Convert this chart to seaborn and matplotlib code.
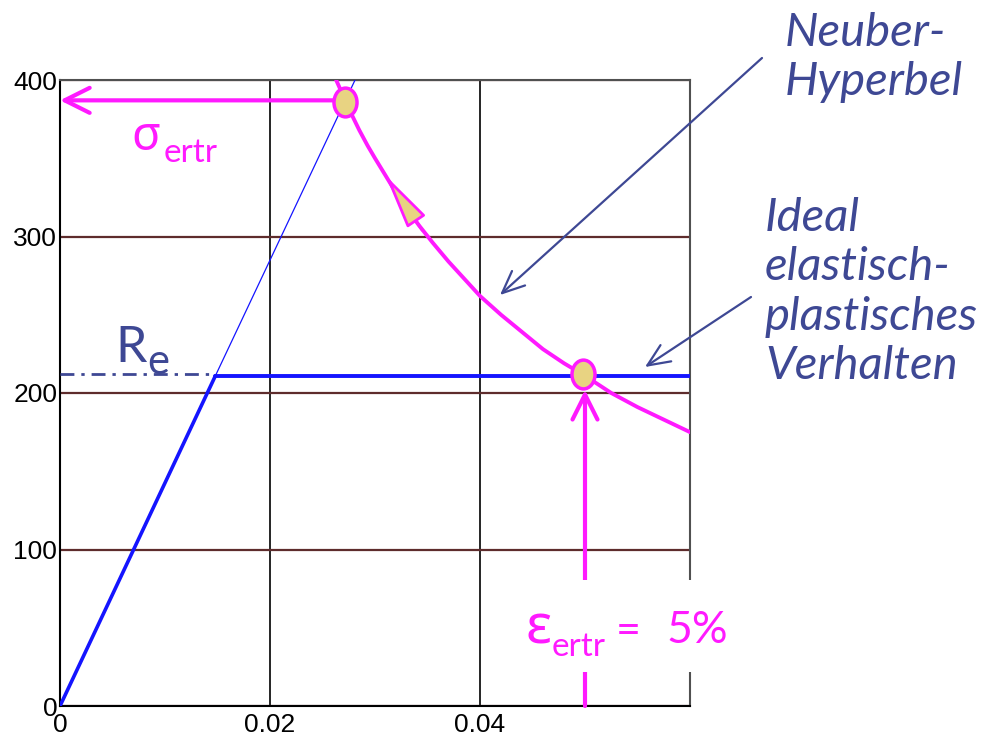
import matplotlib
matplotlib.use("Agg")
import matplotlib.pyplot as plt
import seaborn as sns
from matplotlib.path import Path
from matplotlib.transforms import Affine2D
from matplotlib.patches import Rectangle

# --- data ---
x_ticks = [0, 0.02, 0.04]
x_tick_labels = ["0", "0.02", "0.04"]
y_ticks = [0, 100, 200, 300, 400]
y_tick_labels = ["0", "100", "200", "300", "400"]

# elastic branch (thick) and its thin continuation
elastic_eps = [0.0, 0.0148]
elastic_sig = [0, 211]
elastic_ext_eps = [0.0148, 0.0281]
elastic_ext_sig = [211, 400]

# ideal plastic branch
plastic_eps = [0.0148, 0.060]
plastic_sig = [211, 211]

# yield stress marker line R_e
re_eps = [0.0, 0.0148]
re_sig = [212, 212]

# Neuber hyperbola
neuber_eps = [0.0263, 0.0267, 0.0271, 0.0277, 0.0285, 0.0293, 0.0300, 0.0310,
              0.0320, 0.0330, 0.0342, 0.0355, 0.0370, 0.0385, 0.0400, 0.0420,
              0.0440, 0.0460, 0.0480, 0.0500, 0.0525, 0.0550, 0.0575, 0.0600]
neuber_sig = [400, 394, 388, 379, 368, 358, 350, 339,
              328, 318, 307, 296, 284, 273, 262, 250,
              239, 228, 219, 211, 200, 191, 183, 175]

# highlighted points
point_eps = [0.0271, 0.0498]
point_sig = [386, 212]

sigma_ertr = 387
eps_ertr = 0.05
eps_ertr_tip = 202

# direction arrow on the hyperbola
dir_tip = (0.0310, 339)
dir_tail = (0.0345, 304)

MAGENTA = "#ff1aff"
FILL = "#e8d382"
BLUE = "#1414ff"
SLATE = "#3e4894"
BROWN = "#5e2c2c"

sns.set_style("white")
plt.rcParams["font.family"] = ["Liberation Sans Narrow", "Liberation Sans", "DejaVu Sans"]

W, H = 992, 745
fig = plt.figure(figsize=(W / 100, H / 100), dpi=100)
ax = fig.add_axes([60 / W, 39 / H, 630 / W, 626 / H])


def fp(x, y):
    # image pixel (from top-left) -> figure fraction
    return (x / W, 1 - y / H)


ax.set_xlim(0, 0.06)
ax.set_ylim(0, 400)
ax.set_xticks(x_ticks)
ax.set_xticklabels(x_tick_labels)
ax.set_yticks(y_ticks)
ax.set_yticklabels(y_tick_labels)
ax.tick_params(axis="both", length=0, labelsize=19, labelcolor="black")
ax.tick_params(axis="x", pad=5)
ax.tick_params(axis="y", pad=2)

ax.xaxis.grid(True, color="black", lw=1.2)
ax.yaxis.grid(True, color=BROWN, lw=1.6)
ax.set_axisbelow(True)
for side in ["left", "bottom"]:
    ax.spines[side].set_color("black")
    ax.spines[side].set_linewidth(1.5)
for side in ["top", "right"]:
    ax.spines[side].set_color("#505050")
    ax.spines[side].set_linewidth(1.5)

# curves
sns.lineplot(x=elastic_ext_eps, y=elastic_ext_sig, ax=ax, color=BLUE, lw=0.9,
             sort=False, estimator=None, zorder=3)
sns.lineplot(x=elastic_eps, y=elastic_sig, ax=ax, color=BLUE, lw=2.6,
             sort=False, estimator=None, zorder=3)
sns.lineplot(x=plastic_eps, y=plastic_sig, ax=ax, color=BLUE, lw=2.8,
             sort=False, estimator=None, zorder=3)
sns.lineplot(x=re_eps, y=re_sig, ax=ax, color=SLATE, lw=2.0,
             linestyle=(0, (5, 2.5, 1.2, 2.5)), sort=False, estimator=None, zorder=3)
sns.lineplot(x=neuber_eps, y=neuber_sig, ax=ax, color=MAGENTA, lw=2.8,
             sort=False, estimator=None, zorder=4)

# arrows to the axes
ax.annotate("", xy=(0, sigma_ertr), xytext=(point_eps[0], sigma_ertr),
            arrowprops=dict(arrowstyle="->,head_length=0.9,head_width=0.45",
                            mutation_scale=20, color=MAGENTA, lw=3,
                            shrinkA=0, shrinkB=0), zorder=4)
ax.annotate("", xy=(eps_ertr, eps_ertr_tip), xytext=(eps_ertr, 0),
            arrowprops=dict(arrowstyle="->,head_length=0.9,head_width=0.45",
                            mutation_scale=20, color=MAGENTA, lw=3,
                            shrinkA=0, shrinkB=0), zorder=4)

# direction triangle on the hyperbola
ax.annotate("", xy=dir_tip, xytext=dir_tail,
            arrowprops=dict(arrowstyle="-|>,head_length=1.7,head_width=0.34",
                            mutation_scale=20, fc=FILL, ec=MAGENTA, lw=2,
                            shrinkA=0, shrinkB=0), zorder=5)

# elliptic markers
ell = Path.unit_circle().transformed(Affine2D().scale(0.8, 1.0))
sns.scatterplot(x=point_eps, y=point_sig, ax=ax, marker=ell, s=430,
                color=FILL, edgecolor=MAGENTA, linewidth=2.5, zorder=6)

# labels inside the chart
fig.text(*fp(131, 150), "σ", fontsize=34, color=MAGENTA, family=["Noto Sans", "DejaVu Sans"])
fig.text(*fp(164, 162), "ertr", fontsize=24, color=MAGENTA, family=["Lato", "DejaVu Sans"])
fig.text(*fp(115, 362), "R", fontsize=36, color=SLATE, family=["Lato", "DejaVu Sans"])
fig.text(*fp(147, 374), "e", fontsize=30, color=SLATE, family=["Lato", "DejaVu Sans"])

# epsilon label with white background
fig.add_artist(Rectangle(fp(515, 672), 230 / W, 92 / H, transform=fig.transFigure,
                         fc="white", ec="none", zorder=5))
fig.text(*fp(526, 643), "ε", fontsize=40, color=MAGENTA, zorder=6,
         family=["Noto Sans", "DejaVu Sans"])
fig.text(*fp(552, 656), "ertr", fontsize=24, color=MAGENTA, zorder=6,
         family=["Lato", "DejaVu Sans"])
fig.text(*fp(616, 643), "=", fontsize=31, color=MAGENTA, zorder=6,
         family=["Lato", "DejaVu Sans"])
fig.text(*fp(666, 643), "5%", fontsize=32, color=MAGENTA, zorder=6,
         family=["Lato", "DejaVu Sans"])

# side annotations
fig.text(*fp(785, 12), "Neuber-\nHyperbel", fontsize=34, color=SLATE, va="top",
         style="italic", linespacing=1.22, family=["Lato", "DejaVu Sans"])
fig.text(*fp(765, 197), "Ideal\nelastisch-\nplastisches\nVerhalten", fontsize=34,
         color=SLATE, va="top", style="italic", linespacing=1.22,
         family=["Lato", "DejaVu Sans"])

ax.annotate("", xy=fp(500, 295), xytext=fp(762, 58), xycoords="figure fraction",
            textcoords="figure fraction",
            arrowprops=dict(arrowstyle="->,head_length=0.8,head_width=0.35",
                            mutation_scale=20, color=SLATE, lw=1.6,
                            shrinkA=0, shrinkB=0))
ax.annotate("", xy=fp(645, 367), xytext=fp(751, 297), xycoords="figure fraction",
            textcoords="figure fraction",
            arrowprops=dict(arrowstyle="->,head_length=0.8,head_width=0.35",
                            mutation_scale=20, color=SLATE, lw=1.6,
                            shrinkA=0, shrinkB=0))

fig.savefig("out.png", dpi=100)
